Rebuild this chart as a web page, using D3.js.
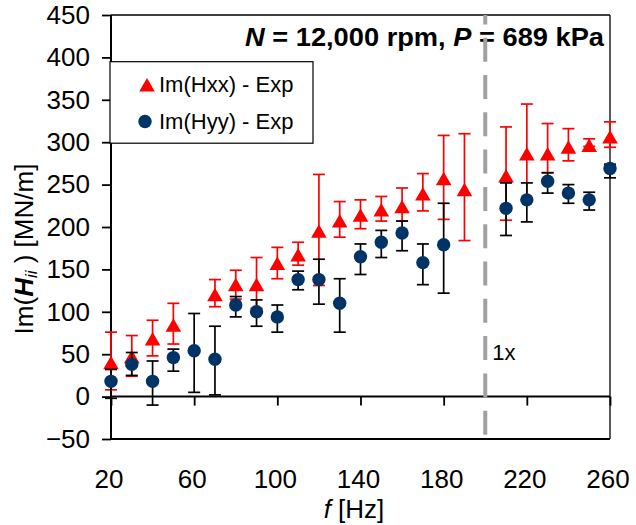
<!DOCTYPE html>
<html>
<head>
<meta charset="utf-8">
<script src="https://cdn.jsdelivr.net/npm/d3@7/dist/d3.min.js"></script>
<style>
html,body{margin:0;padding:0;background:#fff;}
svg text{font-family:"Liberation Sans",Arial,sans-serif;}
</style>
</head>
<body>
<svg id="chart" width="636" height="525"></svg>
<script>
// ---- data ----
const xTicks = [20, 60, 100, 140, 180, 220, 260];
const yTicks = [-50, 0, 50, 100, 150, 200, 250, 300, 350, 400, 450];

const freqXX = [20,30,40,50,70,80,90,100,110,120,130,140,150,160,170,180,190,210,220,230,240,250,260];
const hxx    = [40,47,68,84,120,132,132,157,167,195,207,214,220,224,239,257,244,260,286,286,294,296,306];
const hxxLo  = [8,24,48,62,106,115,104,139,155,131,188,198,207,207,219,209,184,208,232,264,278,295,294];
const hxxHi  = [76,72,90,110,138,149,164,176,182,262,230,232,236,246,263,308,310,318,345,322,316,304,324];

const freqYY = [20,30,40,50,60,70,80,90,100,110,120,130,140,150,160,170,180,210,220,230,240,250,260];
const hyy    = [18,38,18,46,54,44,108,100,94,138,138,110,165,182,193,158,179,222,232,254,240,232,269];
const hyyLo  = [-2,25,-10,30,5,2,94,83,76,126,109,76,144,164,172,132,122,190,206,240,228,220,258];
const hyyHi  = [32,52,42,56,98,83,118,114,108,148,162,139,180,196,207,180,228,252,252,264,250,241,274];

const syncFreq = 200;
const seriesNames = ["Im(Hxx) - Exp", "Im(Hyy) - Exp"];

// ---- layout ----
const svg = d3.select("#chart");
const L = 111, R = 610, T = 15, B = 439;
const x = d3.scaleLinear().domain([20, 260]).range([L, R]);
const y = d3.scaleLinear().domain([-50, 450]).range([B, T]);
const red = "#ff0000", navy = "#003366";

// frame
svg.append("line").attr("x1", L).attr("x2", R).attr("y1", T).attr("y2", T).attr("stroke", "#000").attr("stroke-width", 1.3);
svg.append("line").attr("x1", R).attr("x2", R).attr("y1", T).attr("y2", B).attr("stroke", "#000").attr("stroke-width", 1.3);
svg.append("line").attr("x1", L).attr("x2", R).attr("y1", B).attr("y2", B).attr("stroke", "#000").attr("stroke-width", 1.8);

// y axis
const yAxis = svg.append("g").attr("transform", `translate(${L},0)`)
  .call(d3.axisLeft(y).tickValues(yTicks).tickSize(9).tickPadding(12).tickFormat(d3.format("d")));
yAxis.select(".domain").attr("stroke-width", 2).attr("d", `M0,${B}V${T}`);
yAxis.selectAll(".tick line").attr("stroke-width", 1.8);
yAxis.selectAll(".tick text").attr("font-size", 26).attr("font-family", "Liberation Sans, Arial, sans-serif").attr("fill", "#000");

// x axis at y=0 (ticks only), labels at bottom
const xAxis = svg.append("g").attr("transform", `translate(0,${y(0)})`)
  .call(d3.axisBottom(x).tickValues(xTicks).tickSize(9).tickFormat(""));
xAxis.select(".domain").attr("stroke-width", 2).attr("d", `M${L},0H${R}`);
xAxis.selectAll(".tick line").attr("stroke-width", 1.8);

svg.append("g").selectAll("text").data(xTicks).join("text")
  .attr("x", d => x(d) - 2).attr("y", 488).attr("text-anchor", "middle")
  .attr("font-size", 26).attr("fill", "#000").text(d => d);

// title annotation
const title = svg.append("text").attr("x", 245).attr("y", 46).attr("font-size", 26).attr("font-weight", "bold").attr("fill", "#000")
  .attr("textLength", 359).attr("lengthAdjust", "spacingAndGlyphs");
title.append("tspan").attr("font-style", "italic").text("N");
title.append("tspan").text(" = 12,000 rpm, ");
title.append("tspan").attr("font-style", "italic").text("P");
title.append("tspan").text(" = 689 kPa");

// dashed 1x line
svg.append("line").attr("x1", x(syncFreq)).attr("x2", x(syncFreq)).attr("y1", T).attr("y2", B)
  .attr("stroke", "#a0a0a0").attr("stroke-width", 4).attr("stroke-dasharray", "24,13.3").attr("stroke-dashoffset", 14.6);
svg.append("text").attr("x", x(syncFreq) + 7).attr("y", 360).attr("font-size", 22).attr("fill", "#000").text("1x");

// error bars + markers
const capW = 6;
function errorBars(freq, lo, hi, color) {
  const g = svg.append("g").attr("stroke", color).attr("stroke-width", 1.7).attr("fill", "none");
  freq.forEach((f, i) => {
    const cx = x(f);
    g.append("line").attr("x1", cx).attr("x2", cx).attr("y1", y(lo[i])).attr("y2", y(hi[i]));
    g.append("line").attr("x1", cx - capW).attr("x2", cx + capW).attr("y1", y(lo[i])).attr("y2", y(lo[i]));
    g.append("line").attr("x1", cx - capW).attr("x2", cx + capW).attr("y1", y(hi[i])).attr("y2", y(hi[i]));
  });
}
const triPath = "M0,-7L7.8,6.5L-7.8,6.5Z";

errorBars(freqXX, hxxLo, hxxHi, red);
svg.append("g").selectAll("path").data(freqXX).join("path")
  .attr("d", triPath).attr("fill", red)
  .attr("transform", (d, i) => `translate(${x(d)},${y(hxx[i])})`);

errorBars(freqYY, hyyLo, hyyHi, "#000");
svg.append("g").selectAll("circle").data(freqYY).join("circle")
  .attr("cx", d => x(d)).attr("cy", (d, i) => y(hyy[i])).attr("r", 6.7).attr("fill", navy);

// legend
const lg = svg.append("g");
lg.append("rect").attr("x", 110).attr("y", 61.7).attr("width", 203).attr("height", 81.5)
  .attr("fill", "#fff").attr("stroke", "#000").attr("stroke-width", 1.2);
lg.append("path").attr("d", triPath).attr("fill", red).attr("transform", "translate(147,85)");
lg.append("circle").attr("cx", 145).attr("cy", 121.5).attr("r", 6.7).attr("fill", navy);
lg.append("text").attr("x", 159).attr("y", 92).attr("font-size", 22).attr("fill", "#000").text(seriesNames[0]);
lg.append("text").attr("x", 159).attr("y", 128.5).attr("font-size", 22).attr("fill", "#000").text(seriesNames[1]);

// axis titles
const yl = svg.append("text").attr("transform", "translate(33,249) rotate(-90)")
  .attr("text-anchor", "middle").attr("font-size", 26).attr("fill", "#000");
yl.append("tspan").text("Im(");
yl.append("tspan").attr("font-weight", "bold").attr("font-style", "italic").text("H");
yl.append("tspan").attr("font-style", "italic").attr("font-size", 17).attr("dy", 4).text("ii");
yl.append("tspan").attr("dy", -4).text(" ) [MN/m]");

const xl = svg.append("text").attr("x", 354).attr("y", 518).attr("text-anchor", "middle")
  .attr("font-size", 26).attr("fill", "#000");
xl.append("tspan").attr("font-style", "italic").text("f");
xl.append("tspan").text(" [Hz]");
</script>
</body>
</html>
